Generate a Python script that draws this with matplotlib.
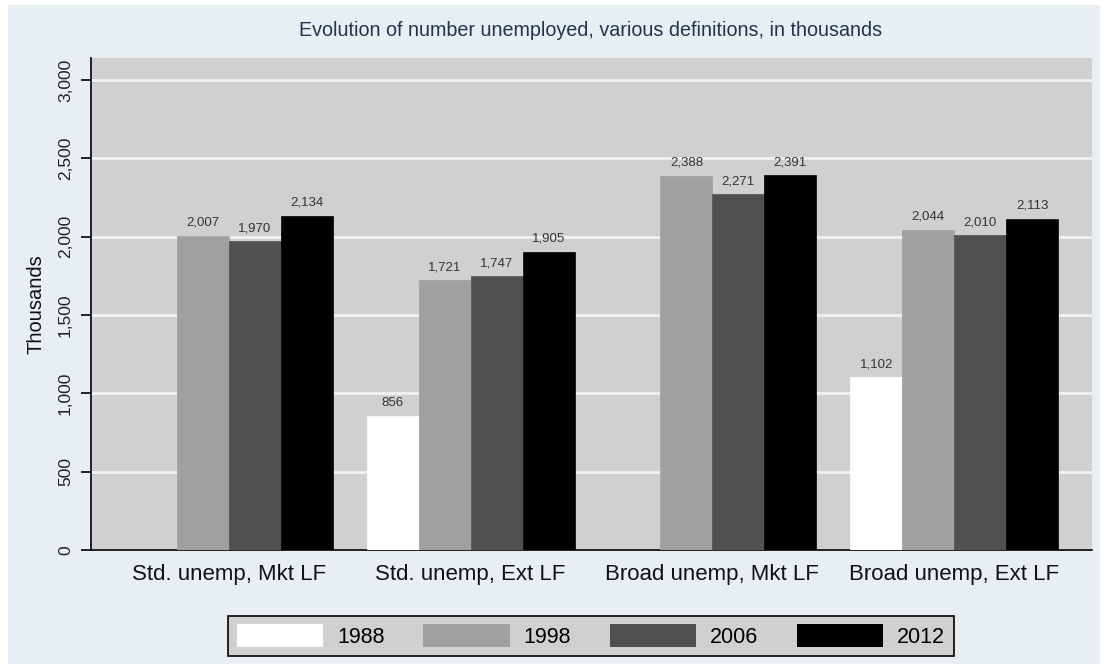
import numpy as np
import matplotlib
matplotlib.use("Agg")
from matplotlib import pyplot as plt
from matplotlib.patches import Rectangle, Patch
from matplotlib.ticker import FuncFormatter

plt.rcParams['font.family'] = ['Liberation Sans', 'DejaVu Sans']

categories = ['Std. unemp, Mkt LF', 'Std. unemp, Ext LF', 'Broad unemp, Mkt LF', 'Broad unemp, Ext LF']
years = ['1988', '1998', '2006', '2012']
v1988 = [np.nan, 856, np.nan, 1102]
v1998 = [2007, 1721, 2388, 2044]
v2006 = [1970, 1747, 2271, 2010]
v2012 = [2134, 1905, 2391, 2113]
series = [v1988, v1998, v2006, v2012]
colors = ['#ffffff', '#a0a0a0', '#505050', '#000000']

bg = '#e8eff2'
plotbg = '#d0d0d0'

fig = plt.figure(figsize=(11.04, 6.64), dpi=100, facecolor='white')
fig.patches.append(Rectangle((8 / 1104, 0), 1092 / 1104, 659 / 664, transform=fig.transFigure,
                             facecolor=bg, edgecolor='none', zorder=-10))
ax = fig.add_axes([91 / 1104, 1 - 550 / 664, 1001 / 1104, 492 / 664])
ax.set_facecolor(plotbg)

gap = 34 / 52
nb = len(series)
group_w = nb + gap
for j, vals in enumerate(series):
    for i, v in enumerate(vals):
        if np.isnan(v):
            continue
        x = gap + i * group_w + j + 0.5
        ax.bar(x, v, width=1.0, color=colors[j], edgecolor=colors[j], linewidth=0.5, zorder=3)
        ax.annotate(f'{v:,.0f}', (x, v), xytext=(0, 5), textcoords='offset points',
                    ha='center', va='bottom', fontsize=9.5, color='#333333', zorder=4)

centers = [gap + i * group_w + nb / 2 for i in range(len(categories))]
ax.set_xticks(centers)
ax.set_xticklabels(categories, fontsize=16, color='#111111')
ax.set_xlim(0, len(categories) * group_w + gap)
ax.set_ylim(0, 3140)
ax.set_yticks(np.arange(0, 3001, 500))
ax.yaxis.set_major_formatter(FuncFormatter(lambda y, p: f'{y:,.0f}'))
ax.tick_params(axis='x', length=0, pad=10)
ax.tick_params(axis='y', length=7, width=1.2, pad=6, labelsize=12.5, labelcolor='#222222', labelrotation=90)
for lab in ax.get_yticklabels():
    lab.set_va('center')
ax.grid(axis='y', color='#edf3f5', linewidth=2, zorder=1)
ax.set_axisbelow(True)
for s in ['top', 'right']:
    ax.spines[s].set_visible(False)
ax.spines['left'].set_linewidth(1.2)
ax.spines['bottom'].set_linewidth(1.2)
ax.set_ylabel('Thousands', fontsize=14.5, color='#111111', labelpad=9)

fig.text(591 / 1104, 1 - 30 / 664, 'Evolution of number unemployed, various definitions, in thousands',
         ha='center', va='center', fontsize=14.2, color='#22344f')

handles = [Patch(facecolor=c, edgecolor='none') for c in colors]
leg = fig.legend(handles, years, loc='center', bbox_to_anchor=(591 / 1104, 1 - 636 / 664), ncol=4,
                 fontsize=15.5, handlelength=4.0, handleheight=1.25, handletextpad=0.65,
                 columnspacing=1.8, borderpad=0.4, fancybox=False, framealpha=1,
                 facecolor=plotbg, edgecolor='black')
leg.get_frame().set_linewidth(1.2)

fig.savefig('out.png', dpi=100, facecolor=fig.get_facecolor())
